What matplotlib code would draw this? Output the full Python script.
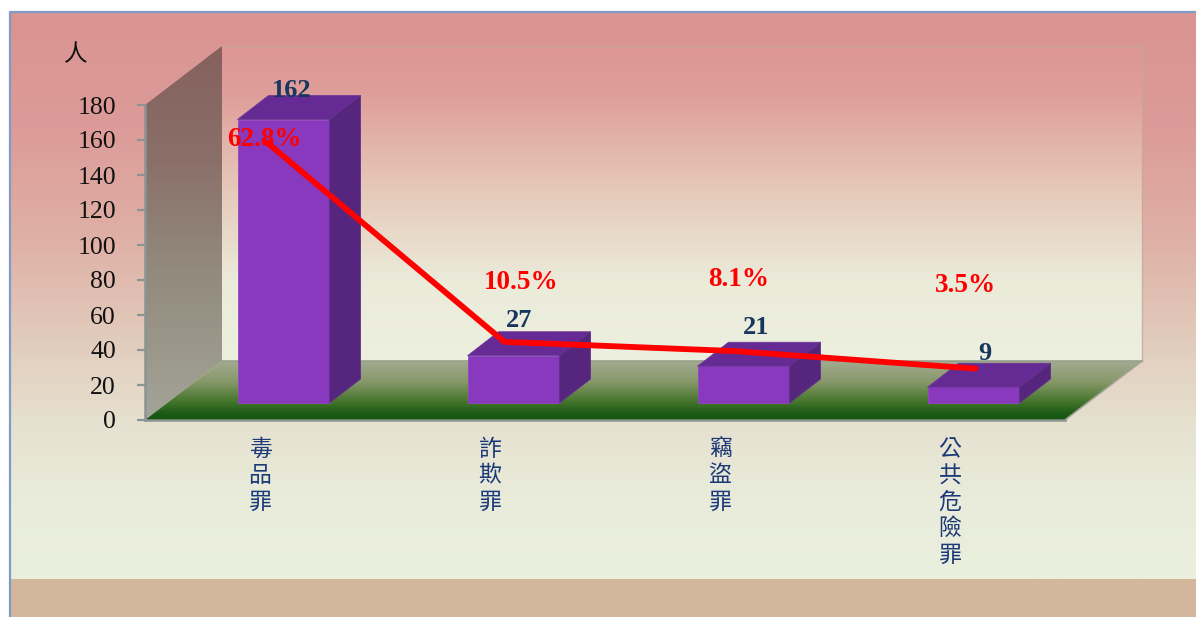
import numpy as np
import matplotlib
matplotlib.use('Agg')
import matplotlib.pyplot as plt
from matplotlib.colors import LinearSegmentedColormap
from matplotlib.patches import Polygon, Rectangle

categories = ['毒品罪', '詐欺罪', '竊盜罪', '公共危險罪']
counts = [162, 27, 21, 9]
shares = [62.8, 10.5, 8.1, 3.5]
share_labels = ['62.8%', '10.5%', '8.1%', '3.5%']
y_ticks = [0, 20, 40, 60, 80, 100, 120, 140, 160, 180]

W, H = 1196, 617
SERIF = 'Liberation Serif'
CJK = 'Noto Sans CJK TC'


def vgrad(ax, extent, stops, zorder, clip=None):
    cmap = LinearSegmentedColormap.from_list('g', stops)
    img = ax.imshow(np.linspace(0, 1, 256).reshape(-1, 1), cmap=cmap, extent=extent,
                    aspect='auto', origin='upper', zorder=zorder, interpolation='bilinear')
    if clip is not None:
        img.set_clip_box(fig.bbox)
        img.set_clip_path(clip)
    return img


fig = plt.figure(figsize=(W / 100, H / 100), dpi=100, facecolor='white')

# slide background, in pixels
bg = fig.add_axes([0, 0, 1, 1])
bg.set_xlim(0, W)
bg.set_ylim(H, 0)
bg.axis('off')
vgrad(bg, (10, W, 579, 12), [(0, '#da9492'), (0.2, '#dc9b98'), (0.4, '#dfb0a6'), (0.58, '#e2ccbc'),
                             (0.72, '#e6e0cf'), (0.86, '#e9ecdb'), (1, '#ebefde')], 1)
bg.add_patch(Rectangle((10, 579), W - 10, H - 579, color='#d3b69c', lw=0, zorder=2))
bg.plot([10, 10, W], [H, 12, 12], color='#7f9bc8', lw=1.6, zorder=3)
bg.set_xlim(0, W)
bg.set_ylim(H, 0)

# the plot's axes sit on the front edge of the 3D floor
ax = fig.add_axes([145 / W, 1 - 420 / H, 920 / W, 315 / H], zorder=2)
ax.patch.set_alpha(0)
x_pos = np.arange(len(categories))
ax.set_xlim(-0.5, 3.5)
ax.set_ylim(0, 180)
px_x = 4 / 920
px_y = 180 / 315

# chart box depth
dx = 77 * px_x
dy = 59 * px_y
x0, x1 = -0.5, 3.5
top = 180

wall = Polygon([(x0 + dx, dy), (x1 + dx, dy), (x1 + dx, top + dy), (x0 + dx, top + dy)],
               transform=ax.transData, fc='none', ec='none', clip_on=False, zorder=1.5)
ax.add_patch(wall)
vgrad(ax, (x0 + dx, x1 + dx, dy, top + dy), [(0, '#dc9694'), (0.15, '#df9e9a'), (0.45, '#e6c8b8'),
                                             (0.75, '#ebebda'), (1, '#edf0df')], 1, wall)
ax.plot([x0 + dx, x1 + dx, x1 + dx], [top + dy, top + dy, dy], color='#c2ab9f', lw=1, alpha=0.8,
        clip_on=False, zorder=1.6)

side = Polygon([(x0, 0), (x0 + dx, dy), (x0 + dx, top + dy), (x0, top)], transform=ax.transData,
               fc='none', ec='none', clip_on=False, zorder=2)
ax.add_patch(side)
vgrad(ax, (x0, x0 + dx, 0, top + dy), [(0, '#86605c'), (0.3, '#8a6f68'), (0.6, '#928a7c'),
                                       (1, '#a3a498')], 2, side)

floor = Polygon([(x0, 0), (x1, 0), (x1 + dx, dy), (x0 + dx, dy)], transform=ax.transData,
                fc='none', ec='none', clip_on=False, zorder=2)
ax.add_patch(floor)
vgrad(ax, (x0, x1 + dx, 0, dy), [(0, '#a3aa90'), (0.35, '#87986a'), (0.65, '#4d7a32'),
                                 (0.88, '#1d5c16'), (1, '#14520f')], 2, floor)
ax.plot([x1, x1 + dx], [0, dy], color='#a3a498', lw=1.2, clip_on=False, zorder=2.5)
ax.plot([x0 + dx, x1 + dx], [dy, dy], color='#98a08c', lw=1.2, clip_on=False, zorder=2.5)
ax.set_xlim(-0.5, 3.5)
ax.set_ylim(0, 180)

# bars stand inside the floor
bar_w = 92 * px_x
bx = 23.5 * px_x
by = 17 * px_y
bd_x = 31 * px_x
bd_y = 24 * px_y
ax.bar(x_pos + bx, counts, width=bar_w, bottom=by, color='#8839be', edgecolor='#8f49c0', lw=0.6,
       zorder=3, clip_on=False)
for x, v in zip(x_pos, counts):
    l = x + bx - bar_w / 2
    r = x + bx + bar_w / 2
    t = by + v
    ax.add_patch(Polygon([(l, t), (r, t), (r + bd_x, t + bd_y), (l + bd_x, t + bd_y)], fc='#662a94',
                         ec='#6e3a98', lw=0.6, clip_on=False, zorder=3))
    ax.add_patch(Polygon([(r, by), (r + bd_x, by + bd_y), (r + bd_x, t + bd_y), (r, t)], fc='#56267e',
                         ec='#5e3484', lw=0.6, clip_on=False, zorder=3))

count_off = [(32, 46), (29, 52), (36, 56), (35, 51)]
for x, v, off in zip(x_pos, counts, count_off):
    ax.annotate(str(v), (x, v), xytext=off, textcoords='offset pixels', ha='center', va='center',
                fontfamily=SERIF, fontweight='bold', fontsize=19, color='#17375e', zorder=6,
                annotation_clip=False)

ax.set_yticks(y_ticks)
ax.set_yticklabels([str(v) for v in y_ticks], fontfamily=SERIF, fontsize=18.5, color='#111111')
ax.tick_params(axis='y', length=5.8, width=1.6, color='#8a9490', pad=15)
ax.set_xticks(x_pos)
ax.set_xticklabels(['\n'.join(c) for c in categories], fontfamily=CJK, fontsize=16.5, color='#1c3a78',
                   linespacing=1.19)
ax.tick_params(axis='x', length=0, pad=13)
for s in ['top', 'right']:
    ax.spines[s].set_visible(False)
for s in ['left', 'bottom']:
    ax.spines[s].set_color('#8a9490')
    ax.spines[s].set_linewidth(1.8)
    ax.spines[s].set_zorder(4)

ax.text(76, 55, '人', transform=bg.transData, fontfamily=CJK, fontsize=17, color='#111111',
        ha='center', va='center', zorder=6)

# share line is on its own hidden scale, 0% sits 38 px above the axis
ax2 = ax.twinx()
ax2.patch.set_alpha(0)
px_per_pct = 3.82
ax2.set_ylim(-38 / px_per_pct, (315 - 38) / px_per_pct)
ax2.axis('off')
line_off = np.array([-17, -9, -9, 2]) + 23.5
line_x = x_pos + line_off * px_x
ax2.plot(line_x, shares, color='#ff0000', lw=4.2, solid_capstyle='round', solid_joinstyle='round',
         zorder=5, clip_on=False)
share_off = [(-2, 3), (17, 59), (4, 72), (-10, 83)]
for x, p, lab, off in zip(line_x, shares, share_labels, share_off):
    ax2.annotate(lab, (x, p), xytext=off, textcoords='offset pixels', ha='center', va='center',
                 fontfamily=SERIF, fontweight='bold', fontsize=19.5, color='#ff0000', zorder=6,
                 annotation_clip=False)

fig.savefig('out.png', dpi=100)
